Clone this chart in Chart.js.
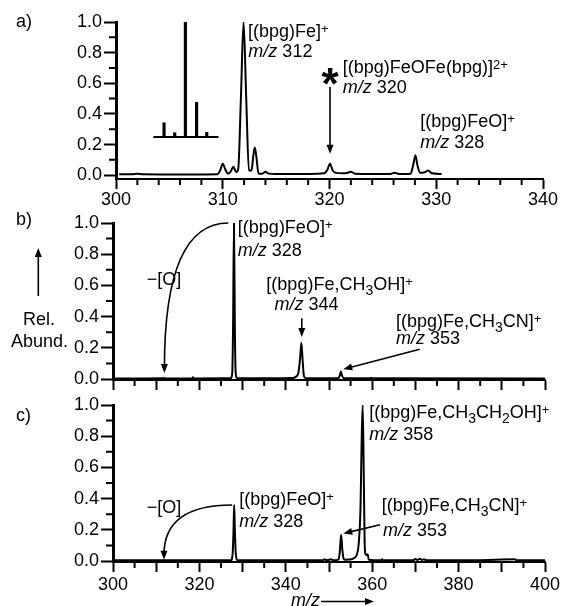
<!DOCTYPE html>
<html>
<head>
<meta charset="UTF-8">
<title>Spectra</title>
<script src="https://cdn.jsdelivr.net/npm/chart.js"></script>
<style>
  body { margin: 0; background: #fff; }
  #wrap { position: relative; width: 563px; height: 606px; }
  #wrap canvas { position: absolute; left: 0; top: 0; }
</style>
</head>
<body>
<div id="wrap">
  <canvas id="chartA" width="563" height="606"></canvas>
  <canvas id="chartB" width="563" height="606"></canvas>
  <canvas id="chartC" width="563" height="606"></canvas>
</div>
<script>
// ---- data: [m/z, rel. abundance] ----
const specA = [
  [300.3,0.006],[301.5,0.006],[302,0.009],[302.5,0.006],[305,0.005],[308,0.005],[309.5,0.006],
  [309.75,0.03],[310.0,0.075],[310.25,0.035],[310.5,0.01],[310.75,0.025],[311.0,0.055],[311.25,0.02],
  [311.45,0.04],[311.7,0.5],[311.95,1.0],[312.2,0.5],[312.45,0.03],[312.7,0.03],[312.85,0.12],
  [313.0,0.18],[313.15,0.12],[313.35,0.01],[313.7,0.01],[314.0,0.022],[314.3,0.01],[315,0.007],
  [318,0.008],[319.5,0.012],[319.8,0.035],[320.05,0.075],[320.3,0.03],[320.6,0.015],[321.2,0.012],
  [321.6,0.014],[322.0,0.022],[322.4,0.01],[325.7,0.008],[326.1,0.015],[326.5,0.008],[327.6,0.01],
  [327.85,0.07],[328.05,0.13],[328.25,0.06],[328.5,0.015],[328.9,0.018],[329.25,0.03],[329.6,0.012],
  [330.5,0.008]
];
const specB = [
  [300.3,0.005],[305,0.005],[311.8,0.006],[312,0.008],[312.2,0.005],[318.3,0.005],[318.5,0.012],
  [318.7,0.005],[327.3,0.006],[327.6,0.04],[327.8,0.35],[328,1.0],[328.2,0.35],[328.4,0.04],
  [328.7,0.006],[341.5,0.008],[342.3,0.015],[342.9,0.04],[343.3,0.13],[343.6,0.233],[343.9,0.12],
  [344.2,0.02],[344.6,0.006],[352.2,0.006],[352.5,0.025],[352.75,0.049],[353.0,0.025],[353.4,0.006],
  [359.5,0.006],[359.8,0.01],[360.1,0.006],[400,0.005]
];
const specC = [
  [300.3,0.006],[311.9,0.006],[320,0.006],[327.3,0.006],[327.7,0.05],[327.9,0.2],[328.05,0.36],
  [328.2,0.2],[328.45,0.04],[328.8,0.006],[340,0.006],[348.5,0.006],[349,0.012],[349.5,0.006],
  [350.5,0.012],[351,0.006],[352.2,0.01],[352.5,0.06],[352.8,0.17],[353.1,0.07],[353.4,0.015],
  [353.8,0.01],[355.2,0.012],[355.8,0.02],[356.4,0.04],[356.9,0.12],[357.3,0.35],[357.55,0.75],
  [357.8,1.0],[358.05,0.55],[358.25,0.12],[358.45,0.045],[358.7,0.04],[358.95,0.045],[359.2,0.01],
  [362,0.006],[362.3,0.012],[362.6,0.006],[369.5,0.006],[370,0.015],[370.5,0.008],[371,0.016],
  [371.5,0.008],[372,0.012],[372.5,0.006],[376,0.006],[384,0.006],[393,0.012],[393.5,0.006],[400,0.006]
];
// calculated isotope pattern (inset of panel a)
const isoMz = [304.5, 305.5, 306.5, 307.55, 308.5];
const isoTop = [0.342, 0.277, 1.0, 0.475, 0.279];
const isoBase = 0.25;
const isoSpan = [303.5, 309.6];

// ticks
const yMajor = [0, 0.2, 0.4, 0.6, 0.8, 1.0];
const yMinor = [0.1, 0.3, 0.5, 0.7, 0.9];
const xMajorA = [300, 310, 320, 330, 340];
const xMinorA = [302,304,306,308,312,314,316,318,322,324,326,328,332,334,336,338];
const xMajorBC = [300,310,320,330,340,350,360,370,380,390,400];
const xMinorBC = [305,315,325,335,345,355,365,375,385,395];
const xLabelsC = [300, 320, 340, 360, 380, 400];

const FONT = "'Liberation Sans', Arial, Helvetica, sans-serif";
const Y_W = 60;

function drawRuns(ctx, runs, x, y, align) {
  const fontFor = k => (k === 'i' ? 'italic ' : '') + (k === 'sub' ? 14 : k === 'sup' ? 13 : 18) + 'px ' + FONT;
  let w = 0;
  runs.forEach(([s, k]) => { ctx.font = fontFor(k); w += ctx.measureText(s).width; });
  let cx = align === 'center' ? x - w / 2 : x;
  runs.forEach(([s, k]) => {
    ctx.font = fontFor(k);
    const dy = k === 'sub' ? 5 : k === 'sup' ? -4 : 0;
    ctx.fillText(s, cx, y + dy);
    cx += ctx.measureText(s).width;
  });
}

function arrowHead(ctx, fx, fy, tx, ty) {
  const a = Math.atan2(ty - fy, tx - fx), L = 9, W = 3.5;
  const bx = tx - L * Math.cos(a), by = ty - L * Math.sin(a);
  ctx.beginPath();
  ctx.moveTo(tx, ty);
  ctx.lineTo(bx + W * Math.sin(a), by - W * Math.cos(a));
  ctx.lineTo(bx - W * Math.sin(a), by + W * Math.cos(a));
  ctx.closePath();
  ctx.fill();
}

// short (minor) ticks, positions from the chart's scales
const minorPlugin = {
  id: 'minor',
  afterDraw(chart, args, o) {
    const { ctx, chartArea: a, scales: { x, y } } = chart;
    ctx.save();
    ctx.strokeStyle = '#000';
    ctx.lineWidth = 2;
    ctx.beginPath();
    o.x.forEach(v => { const p = x.getPixelForValue(v); ctx.moveTo(p, a.bottom); ctx.lineTo(p, a.bottom + 6); });
    o.y.forEach(v => { const p = y.getPixelForValue(v); ctx.moveTo(a.left, p); ctx.lineTo(a.left - 7, p); });
    ctx.stroke();
    ctx.restore();
  }
};

// labels, arrows, curved arrows
const notesPlugin = {
  id: 'notes',
  afterDraw(chart, args, o) {
    const { ctx, scales: { x, y } } = chart;
    const P = (pt, px) => px ? pt : [x.getPixelForValue(pt[0]), y.getPixelForValue(pt[1])];
    ctx.save();
    ctx.fillStyle = '#000';
    ctx.strokeStyle = '#000';
    ctx.lineWidth = 1.6;
    ctx.textBaseline = 'alphabetic';
    o.items.forEach(it => {
      if (it.text) {
        const [px, py] = P(it.at, it.px);
        drawRuns(ctx, it.text, px, py, it.align);
      } else if (it.arrow) {
        const [a, b] = it.arrow.map(p => P(p, it.px));
        const ang = Math.atan2(b[1] - a[1], b[0] - a[0]);
        ctx.beginPath();
        ctx.moveTo(a[0], a[1]);
        ctx.lineTo(b[0] - 5 * Math.cos(ang), b[1] - 5 * Math.sin(ang));
        ctx.stroke();
        arrowHead(ctx, a[0], a[1], b[0], b[1]);
      } else if (it.curve) {
        const [a, c, b] = it.curve.map(p => P(p, it.px));
        ctx.beginPath();
        ctx.moveTo(a[0], a[1]);
        ctx.quadraticCurveTo(c[0], c[1], b[0], b[1] - 5);
        ctx.stroke();
        arrowHead(ctx, c[0], c[1], b[0], b[1]);
      } else if (it.star) {
        const [px, py] = P(it.star, it.px);
        ctx.font = 'bold 44px ' + FONT;
        ctx.textAlign = 'center';
        const m = ctx.measureText('*');
        ctx.fillText('*', px, py + (m.actualBoundingBoxAscent - m.actualBoundingBoxDescent) / 2);
        ctx.textAlign = 'left';
      }
    });
    ctx.restore();
  }
};

const mz = (n) => [['m/z', 'i'], [' ' + n, '']];

function panel(id, cfg) {
  const a = cfg.area;
  return new Chart(document.getElementById(id), {
    type: 'line',
    data: { datasets: cfg.datasets },
    options: {
      responsive: false,
      animation: false,
      events: [],
      layout: { padding: { left: a.left - Y_W, right: 563 - a.right, top: a.top, bottom: 606 - a.bottom - cfg.xH } },
      elements: { point: { radius: 0 } },
      plugins: {
        legend: { display: false },
        tooltip: { enabled: false },
        minor: { x: cfg.xMinor, y: yMinor },
        notes: { items: cfg.notes }
      },
      scales: {
        x: {
          type: 'linear', min: cfg.xMin, max: cfg.xMax, offset: false,
          afterFit: s => { s.height = cfg.xH; },
          afterBuildTicks: s => { s.ticks = cfg.xMajor.map(v => ({ value: v })); },
          ticks: { autoSkip: false, maxRotation: 0, padding: cfg.xPad, color: '#000', font: { family: FONT, size: 18 }, callback: cfg.xLabel },
          grid: { drawOnChartArea: false, offset: false, tickLength: 10, tickWidth: 2, tickColor: '#000' },
          border: { color: '#000', width: 2 }
        },
        y: {
          type: 'linear', min: cfg.yMin, max: 1,
          afterFit: s => { s.width = Y_W; },
          afterBuildTicks: s => { s.ticks = yMajor.map(v => ({ value: v })); },
          ticks: { padding: 2, color: '#000', font: { family: FONT, size: 18 }, callback: v => v.toFixed(1) },
          grid: { drawOnChartArea: false, tickLength: 12, tickWidth: 2, tickColor: '#000' },
          border: { color: '#000', width: 3 }
        }
      }
    },
    plugins: [minorPlugin, notesPlugin]
  });
}

const trace = d => ({ data: d, borderColor: '#000', borderWidth: 2, cubicInterpolationMode: 'monotone', fill: false });

panel('chartA', {
  area: { left: 116, right: 543, top: 22, bottom: 179 }, xH: 32, xPad: 0,
  xMin: 300, xMax: 340, yMin: -0.025,
  xMajor: xMajorA, xMinor: xMinorA, xLabel: v => String(v),
  datasets: [
    trace(specA),
    { type: 'bar', data: isoMz.map((m, i) => ({ x: m, y: [isoBase, isoTop[i]] })), backgroundColor: '#000', barThickness: 2.5, grouped: false },
    { data: isoSpan.map(m => [m, isoBase]), borderColor: '#000', borderWidth: 2 }
  ],
  notes: [
    { text: [['a)', '']], at: [16, 27], px: true },
    { text: [['[(bpg)Fe]', ''], ['+', 'sup']], at: [312.37, 0.9] },
    { text: mz(312), at: [312.4, 0.773] },
    { star: [320.05, 0.647] },
    { arrow: [[320.05, 0.575], [320.05, 0.14]] },
    { text: [['[(bpg)FeOFe(bpg)]', ''], ['2+', 'sup']], at: [321.25, 0.67] },
    { text: mz(320), at: [321.25, 0.536] },
    { text: [['[(bpg)FeO]', ''], ['+', 'sup']], at: [328.5, 0.314] },
    { text: mz(328), at: [328.5, 0.176] }
  ]
});

panel('chartB', {
  area: { left: 113, right: 545, top: 223, bottom: 380 }, xH: 12, xPad: 1,
  xMin: 300, xMax: 400, yMin: -0.005,
  xMajor: xMajorBC, xMinor: xMinorBC, xLabel: () => '',
  datasets: [trace(specB)],
  notes: [
    { text: [['b)', '']], at: [16, 225], px: true },
    { arrow: [[38.3, 296], [38.3, 248]], px: true },
    { text: [['Rel.', '']], at: [39, 325], px: true, align: 'center' },
    { text: [['Abund.', '']], at: [39.5, 347], px: true, align: 'center' },
    { text: [['[(bpg)FeO]', ''], ['+', 'sup']], at: [328.9, 0.938] },
    { text: mz(328), at: [328.9, 0.79] },
    { text: [['\u2212[O]', '']], at: [307.8, 0.605] },
    { curve: [[326.7, 1.0], [311.9, 1.0], [311.9, 0.04]] },
    { text: [['[(bpg)Fe,CH', ''], ['3', 'sub'], ['OH]', ''], ['+', 'sup']], at: [335.5, 0.572] },
    { text: mz(344), at: [337.4, 0.444] },
    { arrow: [[343.7, 0.39], [343.7, 0.27]] },
    { text: [['[(bpg)Fe,CH', ''], ['3', 'sub'], ['CN]', ''], ['+', 'sup']], at: [365.5, 0.333] },
    { text: mz(353), at: [365.5, 0.228] },
    { arrow: [[371.0, 0.192], [353.3, 0.064]] }
  ]
});

panel('chartC', {
  area: { left: 113, right: 545, top: 405, bottom: 562 }, xH: 32, xPad: 2,
  xMin: 300, xMax: 400, yMin: -0.005,
  xMajor: xMajorBC, xMinor: xMinorBC, xLabel: v => xLabelsC.includes(v) ? String(v) : '',
  datasets: [trace(specC)],
  notes: [
    { text: [['c)', '']], at: [16, 421], px: true },
    { text: [['m/z', 'i']], at: [291, 606], px: true },
    { arrow: [[321, 601.5], [374, 601.5]], px: true },
    { text: [['[(bpg)Fe,CH', ''], ['3', 'sub'], ['CH', ''], ['2', 'sub'], ['OH]', ''], ['+', 'sup']], at: [359.3, 0.915] },
    { text: mz(358), at: [359.3, 0.777] },
    { text: [['[(bpg)Fe,CH', ''], ['3', 'sub'], ['CN]', ''], ['+', 'sup']], at: [362.2, 0.319] },
    { text: mz(353), at: [362.5, 0.16] },
    { arrow: [[361.8, 0.234], [353.3, 0.177]] },
    { text: [['[(bpg)FeO]', ''], ['+', 'sup']], at: [329.2, 0.362] },
    { text: mz(328), at: [329.2, 0.222] },
    { text: [['\u2212[O]', '']], at: [307.8, 0.31] },
    { curve: [[327.6, 0.36], [311.8, 0.36], [311.8, 0.01]] }
  ]
});
</script>
</body>
</html>
